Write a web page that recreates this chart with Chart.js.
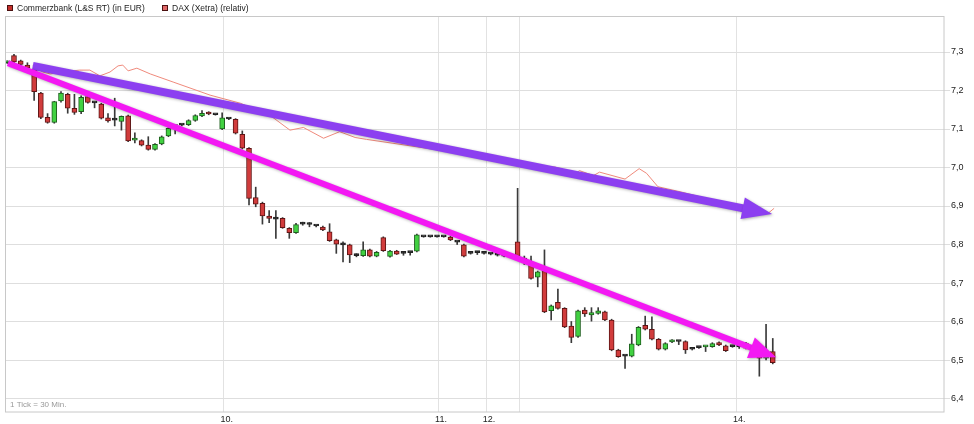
<!DOCTYPE html>
<html>
<head>
<meta charset="utf-8">
<script src="https://cdn.jsdelivr.net/npm/chart.js@4.4.1/dist/chart.umd.min.js"></script>
<style>
  html, body { margin: 0; padding: 0; background: #fff; }
</style>
</head>
<body>
<canvas id="chart" width="974" height="424"></canvas>
<script>
// Commerzbank 30-min candles (index 0..114)
const opens = [
  7.272, 7.291, 7.277, 7.266, 7.255, 7.193, 7.130, 7.117, 7.173, 7.190,
  7.154, 7.145, 7.184, 7.168, 7.165, 7.129, 7.123, 7.120, 7.134, 7.071,
  7.070, 7.058, 7.047, 7.061, 7.082, 7.106, 7.110, 7.111, 7.122, 7.134,
  7.143, 7.137, 7.100, 7.126, 7.125, 7.086, 7.050, 6.922, 6.907, 6.874,
  6.866, 6.868, 6.842, 6.831, 6.853, 6.852, 6.848, 6.845, 6.833, 6.812,
  6.799, 6.799, 6.771, 6.771, 6.786, 6.770, 6.818, 6.769, 6.783, 6.777,
  6.779, 6.783, 6.820, 6.820, 6.820, 6.820, 6.819, 6.806, 6.799, 6.777,
  6.779, 6.777, 6.775, 6.772, 6.770, 6.770, 6.807, 6.765, 6.751, 6.715,
  6.732, 6.628, 6.650, 6.634, 6.588, 6.561, 6.630, 6.617, 6.621, 6.625,
  6.604, 6.526, 6.510, 6.510, 6.539, 6.590, 6.580, 6.554, 6.528, 6.547,
  6.548, 6.548, 6.528, 6.532, 6.534, 6.535, 6.545, 6.537, 6.535, 6.535,
  6.544, 6.525, 6.520, 6.505, 6.522
];
const highs = [
  7.277, 7.294, 7.279, 7.272, 7.264, 7.195, 7.140, 7.172, 7.197, 7.193,
  7.190, 7.186, 7.190, 7.170, 7.167, 7.140, 7.180, 7.134, 7.136, 7.090,
  7.072, 7.080, 7.062, 7.082, 7.104, 7.110, 7.112, 7.124, 7.137, 7.148,
  7.145, 7.138, 7.142, 7.128, 7.127, 7.095, 7.052, 6.949, 6.910, 6.888,
  6.888, 6.870, 6.844, 6.855, 6.858, 6.857, 6.850, 6.848, 6.854, 6.814,
  6.807, 6.801, 6.776, 6.807, 6.788, 6.782, 6.820, 6.785, 6.785, 6.780,
  6.781, 6.827, 6.821, 6.821, 6.821, 6.821, 6.821, 6.808, 6.801, 6.779,
  6.782, 6.779, 6.777, 6.774, 6.772, 6.772, 6.946, 6.770, 6.770, 6.731,
  6.786, 6.643, 6.684, 6.636, 6.600, 6.630, 6.636, 6.636, 6.636, 6.627,
  6.606, 6.528, 6.512, 6.567, 6.587, 6.614, 6.612, 6.556, 6.545, 6.553,
  6.550, 6.550, 6.530, 6.534, 6.537, 6.545, 6.547, 6.539, 6.537, 6.540,
  6.546, 6.530, 6.522, 6.593, 6.556
];
const lows = [
  7.270, 7.272, 7.263, 7.256, 7.174, 7.127, 7.115, 7.115, 7.170, 7.141,
  7.138, 7.140, 7.167, 7.155, 7.126, 7.118, 7.108, 7.097, 7.067, 7.064,
  7.056, 7.045, 7.045, 7.059, 7.080, 7.087, 7.108, 7.109, 7.120, 7.132,
  7.137, 7.136, 7.098, 7.124, 7.087, 7.048, 6.903, 6.898, 6.853, 6.857,
  6.816, 6.842, 6.816, 6.829, 6.850, 6.846, 6.846, 6.836, 6.808, 6.777,
  6.755, 6.753, 6.768, 6.769, 6.768, 6.768, 6.782, 6.767, 6.774, 6.772,
  6.772, 6.781, 6.819, 6.819, 6.819, 6.819, 6.810, 6.800, 6.768, 6.775,
  6.774, 6.775, 6.773, 6.770, 6.768, 6.768, 6.768, 6.748, 6.710, 6.690,
  6.623, 6.604, 6.632, 6.584, 6.545, 6.559, 6.613, 6.601, 6.619, 6.602,
  6.524, 6.507, 6.478, 6.508, 6.537, 6.578, 6.552, 6.526, 6.526, 6.545,
  6.540, 6.517, 6.526, 6.530, 6.522, 6.533, 6.537, 6.522, 6.533, 6.530,
  6.529, 6.515, 6.458, 6.500, 6.490
];
const closes = [
  7.276, 7.274, 7.268, 7.258, 7.197, 7.130, 7.117, 7.171, 7.193, 7.154,
  7.143, 7.182, 7.169, 7.168, 7.128, 7.121, 7.123, 7.133, 7.069, 7.076,
  7.058, 7.047, 7.060, 7.080, 7.102, 7.108, 7.110, 7.122, 7.135, 7.141,
  7.139, 7.137, 7.129, 7.126, 7.089, 7.050, 6.920, 6.905, 6.874, 6.868,
  6.866, 6.844, 6.831, 6.852, 6.853, 6.852, 6.848, 6.838, 6.810, 6.801,
  6.799, 6.773, 6.771, 6.786, 6.770, 6.780, 6.784, 6.783, 6.775, 6.777,
  6.779, 6.825, 6.820, 6.820, 6.820, 6.820, 6.812, 6.806, 6.770, 6.777,
  6.779, 6.777, 6.775, 6.772, 6.770, 6.770, 6.770, 6.752, 6.712, 6.729,
  6.625, 6.641, 6.634, 6.586, 6.559, 6.628, 6.620, 6.623, 6.628, 6.604,
  6.526, 6.509, 6.510, 6.542, 6.585, 6.580, 6.554, 6.528, 6.543, 6.549,
  6.548, 6.526, 6.528, 6.532, 6.536, 6.543, 6.539, 6.524, 6.535, 6.535,
  6.531, 6.520, 6.505, 6.515, 6.493
];

// DAX (relativ) line, read at candle positions
const daxIdx = [3.8, 5.3, 6.4, 8.1, 10.8, 12.3, 13.8, 15.3, 16.5, 17.2, 18.0, 19.3, 21.3, 24.7, 30.2,
  34.7, 39.4, 42.1, 44.1, 47.1, 49.5, 51.8, 53.5, 64.4, 77.8, 81.6, 83.0, 84.0, 85.2, 87.3, 88.2,
  92.0, 94.1, 95.2, 96.9, 100.2, 106.1, 109.8, 113.3, 114.2];
const daxVals = [7.264, 7.248, 7.243, 7.248, 7.253, 7.253, 7.238, 7.248, 7.264, 7.266, 7.251, 7.258, 7.243, 7.222, 7.188,
  7.167, 7.132, 7.097, 7.104, 7.076, 7.093, 7.078, 7.073, 7.045, 7.004, 7.001, 6.994, 6.975, 6.992, 6.979, 6.988,
  6.970, 6.997, 6.985, 6.950, 6.937, 6.911, 6.895, 6.881, 6.894];

// day separators and their labels
const dayTicks = [32.25, 64.15, 71.3, 76.3, 108.55];
const dayLabels = ['10.', '11.', '12.', '', '14.'];
const priceTicks = [6.4, 6.5, 6.6, 6.7, 6.8, 6.9, 7.0, 7.1, 7.2, 7.3];

// hand-drawn trend arrows [index, price]
const arrowPurple = [[3.8, 7.264], [113.9, 6.879]];
const arrowMagenta = [[0.1, 7.271], [114.5, 6.507]];

const RED = '#d13c3c', GREEN = '#41d141';

const bodies = opens.map((o, i) => ({ x: i, y: [o, closes[i]] }));
const wicks = lows.map((l, i) => ({ x: i, y: [l, highs[i]] }));
const dax = daxIdx.map((x, i) => ({ x: x, y: daxVals[i] }));

function bodyColor(ctx) {
  const i = ctx.dataIndex;
  if (closes[i] > opens[i]) return GREEN;
  if (closes[i] < opens[i]) return RED;
  return '#222';
}
function bodyBorder(ctx) {
  const i = ctx.dataIndex;
  if (closes[i] > opens[i]) return '#1d5e1d';
  if (closes[i] < opens[i]) return '#5e1414';
  return '#222';
}

const decorPlugin = {
  id: 'decor',
  beforeDraw(chart) {
    const ctx = chart.ctx;
    ctx.save();
    ctx.fillStyle = '#fff';
    ctx.fillRect(0, 0, chart.width, chart.height);
    ctx.restore();
  },
  afterDatasetsDraw(chart) {
    const ctx = chart.ctx;
    const xs = chart.scales.x, ys = chart.scales.y;
    const drawArrow = (pts, color, width, headLen, headHalf) => {
      const x0 = xs.getPixelForValue(pts[0][0]), y0 = ys.getPixelForValue(pts[0][1]);
      const x1 = xs.getPixelForValue(pts[1][0]), y1 = ys.getPixelForValue(pts[1][1]);
      const len = Math.hypot(x1 - x0, y1 - y0);
      const ux = (x1 - x0) / len, uy = (y1 - y0) / len;
      const bx = x1 - ux * headLen, by = y1 - uy * headLen;
      ctx.save();
      ctx.shadowColor = 'rgba(0,0,0,0.3)';
      ctx.shadowBlur = 3;
      ctx.shadowOffsetX = 1;
      ctx.shadowOffsetY = 1;
      ctx.strokeStyle = color;
      ctx.lineWidth = width;
      ctx.lineCap = 'butt';
      ctx.beginPath();
      ctx.moveTo(x0, y0);
      ctx.lineTo(bx + ux * 2, by + uy * 2);
      ctx.stroke();
      ctx.fillStyle = color;
      ctx.beginPath();
      ctx.moveTo(x1, y1);
      ctx.lineTo(bx - uy * headHalf, by + ux * headHalf);
      ctx.lineTo(bx + uy * headHalf, by - ux * headHalf);
      ctx.closePath();
      ctx.fill();
      ctx.restore();
    };
    drawArrow(arrowPurple, '#8c3ff0', 8, 30, 11);
    drawArrow(arrowMagenta, '#f318f3', 6, 27, 11);
  },
  afterDraw(chart) {
    const ctx = chart.ctx;
    const a = chart.chartArea;
    ctx.save();
    // plot frame
    ctx.strokeStyle = '#c8c8c8';
    ctx.lineWidth = 1;
    ctx.strokeRect(Math.round(a.left) - 0.5, Math.round(a.top) + 0.5,
      Math.round(a.right - a.left) + 0.5, Math.round(a.bottom - a.top) - 0.5);
    // legend
    ctx.font = '8.5px "Liberation Sans", Arial, sans-serif';
    ctx.textBaseline = 'middle';
    ctx.textAlign = 'left';
    const items = [
      { x: 7, fill: '#c4302b', text: 'Commerzbank (L&S RT) (in EUR)' },
      { x: 162, fill: '#e06868', text: 'DAX (Xetra) (relativ)' }
    ];
    items.forEach(it => {
      ctx.fillStyle = it.fill;
      ctx.fillRect(it.x, 5, 6, 6);
      ctx.strokeStyle = '#4a1010';
      ctx.strokeRect(it.x + 0.5, 5.5, 5, 5);
      ctx.fillStyle = '#222';
      ctx.fillText(it.text, it.x + 10, 8.5);
    });
    // tick note
    ctx.font = '8px "Liberation Sans", Arial, sans-serif';
    ctx.fillStyle = '#999';
    ctx.fillText('1 Tick = 30 Min.', a.left + 4, a.bottom - 7);
    ctx.restore();
  }
};

new Chart(document.getElementById('chart'), {
  type: 'bar',
  data: {
    datasets: [
      {
        type: 'line',
        label: 'DAX (Xetra) (relativ)',
        data: dax,
        borderColor: '#f08a7c',
        borderWidth: 1,
        pointRadius: 0,
        tension: 0,
        order: 0
      },
      {
        label: 'Commerzbank (L&S RT) (in EUR)',
        data: bodies,
        backgroundColor: bodyColor,
        borderColor: bodyBorder,
        borderWidth: 1,
        borderSkipped: false,
        barThickness: 5,
        minBarLength: 2,
        grouped: false,
        order: 1
      },
      {
        label: 'wicks',
        data: wicks,
        backgroundColor: '#3a3a3a',
        borderWidth: 0,
        barThickness: 1,
        minBarLength: 1,
        grouped: false,
        order: 2
      }
    ]
  },
  options: {
    responsive: false,
    animation: false,
    layout: { padding: { top: 16, left: 6, right: 0, bottom: 0 } },
    plugins: {
      legend: { display: false },
      tooltip: { enabled: false }
    },
    scales: {
      x: {
        type: 'linear',
        min: -0.19,
        max: 139.5,
        offset: false,
        grid: { color: '#e2e2e2', drawTicks: false, offset: false },
        border: { display: false },
        afterBuildTicks: scale => { scale.ticks = dayTicks.map(v => ({ value: v })); },
        afterFit: scale => { scale.height = 12; },
        ticks: {
          autoSkip: false,
          maxRotation: 0,
          padding: 2,
          labelOffset: 3,
          color: '#222',
          font: { family: '"Liberation Sans", Arial, sans-serif', size: 9 },
          callback: (value, index) => dayLabels[index]
        }
      },
      y: {
        type: 'linear',
        position: 'right',
        min: 6.365,
        max: 7.3935,
        grid: { color: '#dedede', tickLength: 6 },
        border: { display: false },
        afterBuildTicks: scale => { scale.ticks = priceTicks.map(v => ({ value: v })); },
        afterFit: scale => { scale.width = 30; },
        ticks: {
          padding: 1,
          color: '#222',
          font: { family: '"Liberation Sans", Arial, sans-serif', size: 9 },
          callback: v => v.toFixed(1).replace('.', ',')
        }
      }
    }
  },
  plugins: [decorPlugin]
});
</script>
</body>
</html>
